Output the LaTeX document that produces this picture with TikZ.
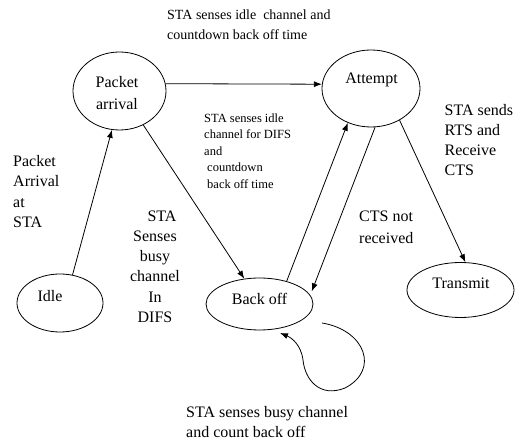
\documentclass[tikz,border=0pt]{standalone}
\usepackage{fontspec}
\setmainfont{Liberation Serif}
\usetikzlibrary{shapes.geometric,arrows.meta}
\begin{document}
\begin{tikzpicture}[x=1pt,y=-1pt,
  st/.style={draw, ellipse, line width=0.8pt, inner sep=0pt},
  arr/.style={-{Latex[length=8pt,width=6pt]}, line width=0.8pt},
  nt/.style={inner sep=0pt, anchor=base, font=\fontsize{16}{20}\selectfont},
  lbl/.style={inner sep=0pt, anchor=north west, align=left, font=\fontsize{16}{20}\selectfont},
]
\useasboundingbox (0,0) rectangle (515,443);
% states
\node[st, minimum width=93pt, minimum height=78pt] (pa) at (119.5,91) {};
\node[st, minimum width=98pt, minimum height=77pt] (at) at (371,88.5) {};
\node[st, minimum width=86pt, minimum height=58pt] (idle) at (60,303) {};
\node[st, minimum width=107pt, minimum height=52pt] (bo) at (259.5,304) {};
\node[st, minimum width=107pt, minimum height=55pt] (tr) at (460.5,290) {};
% state texts
\node[inner sep=0pt, anchor=north, align=center, font=\fontsize{16}{22}\selectfont] (tpa) at (117,71.6) {\strut Packet\\arrival};
\node[nt] (tat) at (371.5,84) {Attempt};
\node[nt] (tidle) at (50,302) {Idle};
\node[nt] (tbo) at (259.5,305) {Back off};
\node[nt] (ttr) at (461,289) {Transmit};
% labels
\node[lbl, font=\fontsize{14}{20}\selectfont] (l1) at (167,5.5) {\strut STA senses idle\ \ channel and\\countdown back off time};
\node[lbl, font=\fontsize{12.5}{16.5}\selectfont] (l2) at (204,110.45) {\strut STA senses idle\\channel for DIFS\\and\\\hspace*{3pt}countdown\\\hspace*{3pt}back off time};
\node[lbl, font=\fontsize{16}{20.5}\selectfont] (l3) at (13,151.65) {\strut Packet\\Arrival\\at\\STA};
\node[inner sep=0pt, anchor=north, align=center, font=\fontsize{16}{20.2}\selectfont] (l4) at (155,206.9) {\strut\hspace*{14pt}STA\\Senses\\busy\\channel\\In\\DIFS};
\node[lbl, font=\fontsize{16}{22}\selectfont] (l5) at (359,205.6) {\strut CTS not\\received};
\node[lbl] (l6) at (444.5,101) {\strut STA sends\\RTS and\\Receive\\CTS};
\node[lbl] (l7) at (186,403) {\strut STA senses busy channel\\and count back off};
% transitions
\draw[arr] (pa.9) -- (at.175);
\draw[arr] (idle.66) -- (pa.259);
\draw[arr] (pa.305) -- (bo.121);
\draw[arr] (bo.40) -- (at.236);
\draw[arr] (at.276) -- ([xshift=5pt]bo.15);
\draw[arr] (at.312) -- (tr.80);
\coordinate (loopA) at (322,323);
\coordinate (loopB) at (280,333);
\draw[arr] (loopA) .. controls (365,330) and (380,370) .. (345,388)
  .. controls (320,398) and (305,380) .. (303,360)
  .. controls (301,345) and (292,338) .. (loopB);
\end{tikzpicture}
\end{document}
